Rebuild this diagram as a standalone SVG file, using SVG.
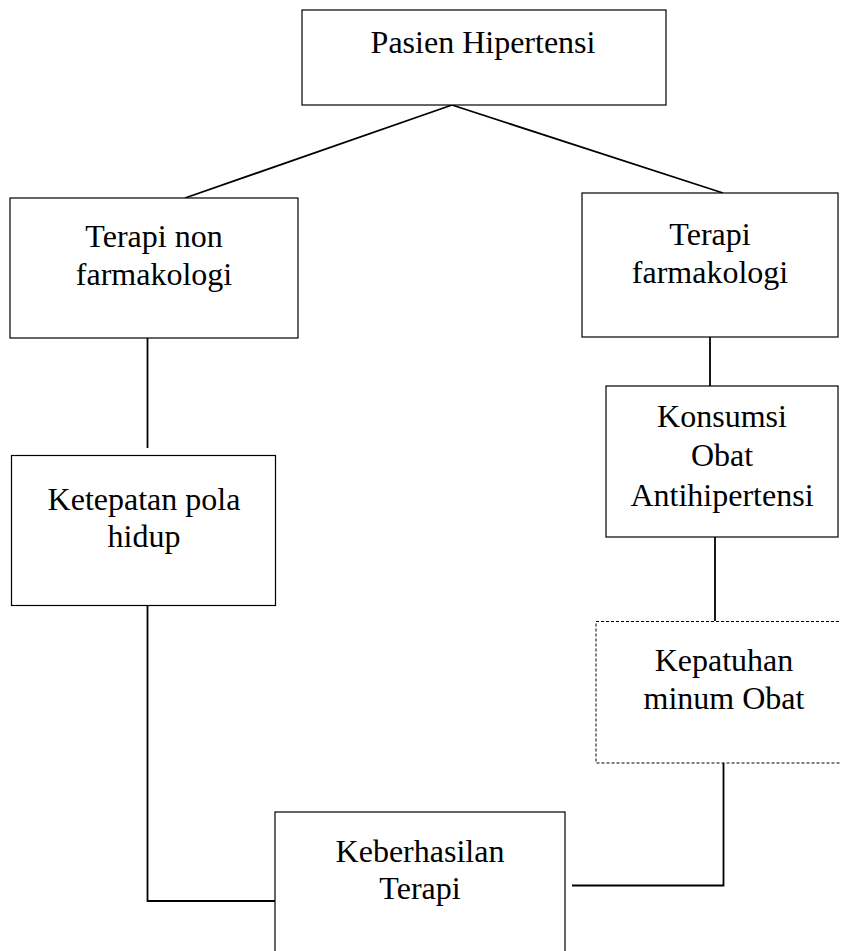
<svg xmlns="http://www.w3.org/2000/svg" width="841" height="951" viewBox="0 0 841 951">
<style>
  .box { fill: #ffffff; stroke: #000000; stroke-width: 1.2; }
  .dotted { fill: #ffffff; stroke: #000000; stroke-width: 1; stroke-dasharray: 3 2; }
  .conn { fill: none; stroke: #000000; stroke-width: 1.8; }
  text { font-family: "Liberation Serif", "Times New Roman", serif; font-size: 32px; fill: #000000; text-anchor: middle; }
</style>
<rect x="0" y="0" width="841" height="951" fill="#ffffff"/>
<g id="connectors">
  <line class="conn" x1="452" y1="105" x2="185" y2="198"/>
  <line class="conn" x1="452" y1="105" x2="723" y2="193"/>
  <line class="conn" x1="147.5" y1="338" x2="147.5" y2="448"/>
  <line class="conn" x1="710" y1="337" x2="710" y2="386"/>
  <line class="conn" x1="715" y1="537" x2="715" y2="621"/>
  <polyline class="conn" points="147.5,605 147.5,901 275,901"/>
  <polyline class="conn" points="723.5,763 723.5,885.5 572,885.5"/>
</g>
<g id="node-pasien">
  <rect class="box" x="302" y="10" width="364" height="95"/>
  <text x="483" y="53">Pasien Hipertensi</text>
</g>
<g id="node-nonfarmakologi">
  <rect class="box" x="10" y="198" width="288" height="140"/>
  <text x="154" y="247">Terapi non</text>
  <text x="154" y="285">farmakologi</text>
</g>
<g id="node-farmakologi">
  <rect class="box" x="582" y="193" width="256" height="144"/>
  <text x="710" y="245">Terapi</text>
  <text x="710" y="283">farmakologi</text>
</g>
<g id="node-ketepatan">
  <rect class="box" x="11.5" y="455.5" width="264" height="150"/>
  <text x="144" y="510">Ketepatan pola</text>
  <text x="144" y="547">hidup</text>
</g>
<g id="node-konsumsi">
  <rect class="box" x="606" y="386" width="232" height="151"/>
  <text x="722" y="427">Konsumsi</text>
  <text x="722" y="466">Obat</text>
  <text x="722" y="506">Antihipertensi</text>
</g>
<g id="node-kepatuhan">
  <rect class="dotted" x="596" y="621.5" width="256" height="141.5"/>
  <text x="724" y="671">Kepatuhan</text>
  <text x="724" y="709">minum Obat</text>
</g>
<g id="node-keberhasilan">
  <rect class="box" x="275" y="812" width="290" height="160"/>
  <text x="420" y="862">Keberhasilan</text>
  <text x="420" y="899">Terapi</text>
</g>
</svg>
